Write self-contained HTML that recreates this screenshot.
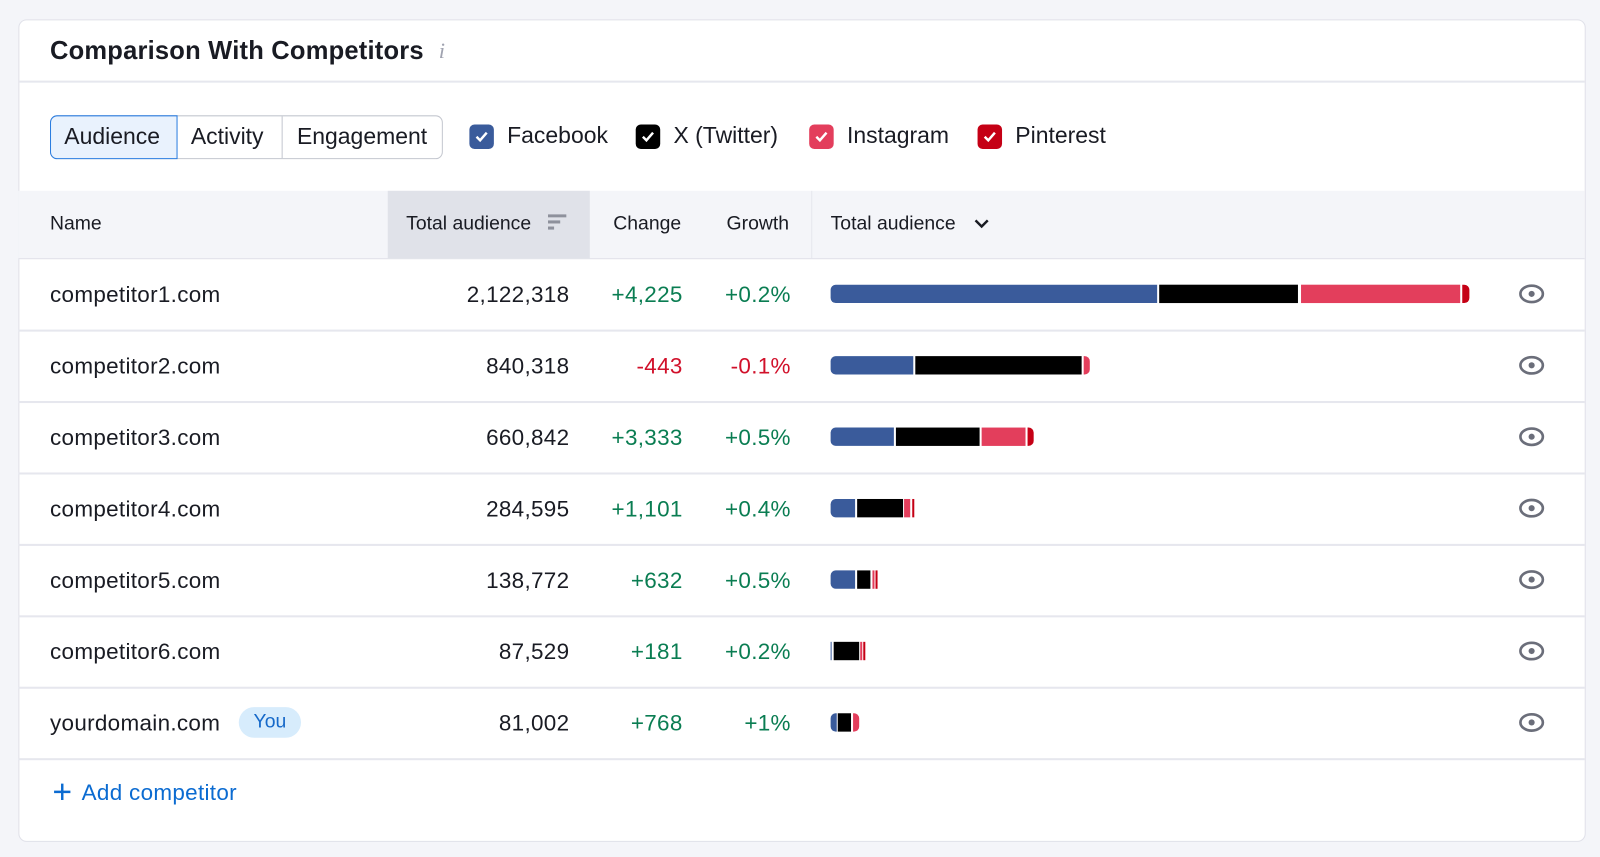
<!DOCTYPE html>
<html><head><meta charset="utf-8"><style>
html,body{margin:0;padding:0;background:#f4f5f9;width:1600px;height:857px;overflow:hidden}
#w{position:absolute;left:0;top:0;width:1568px;height:840px;transform:scale(1.02041);transform-origin:0 0;font-family:"Liberation Sans",sans-serif;color:#191b23}
.a{position:absolute;white-space:nowrap}
.card{left:18px;top:19px;width:1534px;height:804px;background:#fff;border:1px solid #e0e1e9;border-radius:8px;overflow:hidden}
.cb{width:24px;height:24px;border-radius:5px;top:122px}
.cb svg{position:absolute;left:4px;top:5px}
.t22{font-size:22.5px;top:120px}
.row{left:18px;width:1535px;height:70px;border-bottom:2px solid #e6e7ee}
.rt{font-size:22px;top:23px;letter-spacing:0.3px}
.r{text-align:right}
.g{color:#0a7d52}.n{color:#d1102a}
.bar{position:absolute;top:26px;height:18px}
.bar i{position:absolute;top:0;height:18px}
.eye{position:absolute;left:1470px;top:25px}
.h{font-size:19px;top:209px}
</style></head><body><div id="w">
<div class="a card"></div>
<div class="a" style="left:49px;top:36px;font-size:25px;font-weight:bold;letter-spacing:0.2px">Comparison With Competitors</div>
<div class="a" style="left:430px;top:37px;font-size:22px;color:#a0a3b0;font-style:italic;font-family:'Liberation Serif',serif">i</div>
<div class="a" style="left:19px;top:79px;width:1534px;height:2px;background:#e6e7ee"></div>
<div class="a" style="left:49px;top:113px;width:383px;height:41px;border:1px solid #c4c7cf;border-radius:7px"></div>
<div class="a" style="left:49px;top:113px;width:123px;height:41px;border:1px solid #2b7de0;border-radius:7px 0 0 7px;background:#e9f2fd"></div>
<div class="a" style="left:276px;top:114px;width:1px;height:41px;background:#c4c7cf"></div>
<div class="a t22" style="left:63px;top:121px">Audience</div>
<div class="a t22" style="left:187px;top:121px">Activity</div>
<div class="a t22" style="left:291px;top:121px">Engagement</div>
<div class="a cb" style="left:460px;background:#3a5b9b"><svg width="16" height="14"><path d="M3 7l3.5 3.5L13 3" stroke="#fff" stroke-width="2.4" fill="none"/></svg></div>
<div class="a t22" style="left:497px">Facebook</div>
<div class="a cb" style="left:623px;background:#000"><svg width="16" height="14"><path d="M3 7l3.5 3.5L13 3" stroke="#fff" stroke-width="2.4" fill="none"/></svg></div>
<div class="a t22" style="left:660px">X (Twitter)</div>
<div class="a cb" style="left:793px;background:#e33e5c"><svg width="16" height="14"><path d="M3 7l3.5 3.5L13 3" stroke="#fff" stroke-width="2.4" fill="none"/></svg></div>
<div class="a t22" style="left:830px">Instagram</div>
<div class="a cb" style="left:958px;background:#c50015"><svg width="16" height="14"><path d="M3 7l3.5 3.5L13 3" stroke="#fff" stroke-width="2.4" fill="none"/></svg></div>
<div class="a t22" style="left:995px">Pinterest</div>
<div class="a" style="left:18px;top:187px;width:1535px;height:66px;background:#f4f5f9;border-bottom:1px solid #e0e1e9"></div>
<div class="a" style="left:380px;top:187px;width:198px;height:66px;background:#e0e2e9"></div>
<div class="a h" style="left:49px">Name</div>
<div class="a h" style="left:398px">Total audience</div>
<svg class="a" style="left:537px;top:210px" width="20" height="16"><rect x="0" y="0" width="18" height="3" fill="#8e919c"/><rect x="0" y="6" width="12" height="3" fill="#8e919c"/><rect x="0" y="12" width="6" height="3" fill="#8e919c"/></svg>
<div class="a h" style="left:601px">Change</div>
<div class="a h" style="left:712px">Growth</div>
<div class="a" style="left:795px;top:187px;width:1px;height:66px;background:#e6e7ee"></div>
<div class="a h" style="left:814px">Total audience</div>
<svg class="a" style="left:954px;top:213px" width="16" height="12"><path d="M2 3l6 6 6-6" stroke="#191b23" stroke-width="2.4" fill="none"/></svg>

<div class="a row" style="top:253px"><div class="a rt" style="left:31px">competitor1.com</div><div class="a rt r" style="right:995px">2,122,318</div><div class="a rt r g" style="right:884px">+4,225</div><div class="a rt r g" style="right:778px">+0.2%</div>
<div class="bar" style="left:796px"><i style="left:0;width:320px;background:#3a5b9b;border-radius:5px 0 0 5px"></i><i style="left:322px;width:136px;background:#000"></i><i style="left:461px;width:156px;background:#e33e5c"></i><i style="left:619px;width:7px;background:#c50015;border-radius:0 5px 5px 0"></i></div>
<svg class="eye" width="26" height="20"><ellipse cx="13" cy="10" rx="11" ry="8" stroke="#6b6e7a" stroke-width="2.6" fill="none"/><circle cx="13" cy="10" r="3" fill="#6b6e7a"/></svg></div>

<div class="a row" style="top:323px"><div class="a rt" style="left:31px">competitor2.com</div><div class="a rt r" style="right:995px">840,318</div><div class="a rt r n" style="right:884px">-443</div><div class="a rt r n" style="right:778px">-0.1%</div>
<div class="bar" style="left:796px"><i style="left:0;width:81px;background:#3a5b9b;border-radius:5px 0 0 5px"></i><i style="left:83px;width:163px;background:#000"></i><i style="left:248px;width:6px;background:#e33e5c;border-radius:0 5px 5px 0"></i></div>
<svg class="eye" width="26" height="20"><ellipse cx="13" cy="10" rx="11" ry="8" stroke="#6b6e7a" stroke-width="2.6" fill="none"/><circle cx="13" cy="10" r="3" fill="#6b6e7a"/></svg></div>

<div class="a row" style="top:393px"><div class="a rt" style="left:31px">competitor3.com</div><div class="a rt r" style="right:995px">660,842</div><div class="a rt r g" style="right:884px">+3,333</div><div class="a rt r g" style="right:778px">+0.5%</div>
<div class="bar" style="left:796px"><i style="left:0;width:62px;background:#3a5b9b;border-radius:5px 0 0 5px"></i><i style="left:64px;width:82px;background:#000"></i><i style="left:148px;width:43px;background:#e33e5c"></i><i style="left:193px;width:6px;background:#c50015;border-radius:0 5px 5px 0"></i></div>
<svg class="eye" width="26" height="20"><ellipse cx="13" cy="10" rx="11" ry="8" stroke="#6b6e7a" stroke-width="2.6" fill="none"/><circle cx="13" cy="10" r="3" fill="#6b6e7a"/></svg></div>

<div class="a row" style="top:463px"><div class="a rt" style="left:31px">competitor4.com</div><div class="a rt r" style="right:995px">284,595</div><div class="a rt r g" style="right:884px">+1,101</div><div class="a rt r g" style="right:778px">+0.4%</div>
<div class="bar" style="left:796px"><i style="left:0;width:24px;background:#3a5b9b;border-radius:5px 0 0 5px"></i><i style="left:26px;width:45px;background:#000"></i><i style="left:72px;width:6px;background:#e33e5c"></i><i style="left:80px;width:2px;background:#c50015"></i></div>
<svg class="eye" width="26" height="20"><ellipse cx="13" cy="10" rx="11" ry="8" stroke="#6b6e7a" stroke-width="2.6" fill="none"/><circle cx="13" cy="10" r="3" fill="#6b6e7a"/></svg></div>

<div class="a row" style="top:533px"><div class="a rt" style="left:31px">competitor5.com</div><div class="a rt r" style="right:995px">138,772</div><div class="a rt r g" style="right:884px">+632</div><div class="a rt r g" style="right:778px">+0.5%</div>
<div class="bar" style="left:796px"><i style="left:0;width:24px;background:#3a5b9b;border-radius:5px 0 0 5px"></i><i style="left:26px;width:13px;background:#000"></i><i style="left:41px;width:2px;background:#e33e5c"></i><i style="left:44px;width:2px;background:#c50015"></i></div>
<svg class="eye" width="26" height="20"><ellipse cx="13" cy="10" rx="11" ry="8" stroke="#6b6e7a" stroke-width="2.6" fill="none"/><circle cx="13" cy="10" r="3" fill="#6b6e7a"/></svg></div>

<div class="a row" style="top:603px"><div class="a rt" style="left:31px">competitor6.com</div><div class="a rt r" style="right:995px">87,529</div><div class="a rt r g" style="right:884px">+181</div><div class="a rt r g" style="right:778px">+0.2%</div>
<div class="bar" style="left:796px"><i style="left:0;width:1px;background:#3a5b9b"></i><i style="left:3px;width:25px;background:#000"></i><i style="left:29px;width:2px;background:#e33e5c"></i><i style="left:32px;width:2px;background:#c50015"></i></div>
<svg class="eye" width="26" height="20"><ellipse cx="13" cy="10" rx="11" ry="8" stroke="#6b6e7a" stroke-width="2.6" fill="none"/><circle cx="13" cy="10" r="3" fill="#6b6e7a"/></svg></div>

<div class="a row" style="top:673px"><div class="a rt" style="left:31px">yourdomain.com</div>
<div class="a" style="left:216px;top:20px;width:61px;height:30px;border-radius:15px;background:#d7ecfc;color:#1669c9;font-size:19px;text-align:center;line-height:30px">You</div>
<div class="a rt r" style="right:995px">81,002</div><div class="a rt r g" style="right:884px">+768</div><div class="a rt r g" style="right:778px">+1%</div>
<div class="bar" style="left:796px"><i style="left:0;width:6px;background:#3a5b9b;border-radius:5px 0 0 5px"></i><i style="left:7px;width:13px;background:#000"></i><i style="left:22px;width:6px;background:#e33e5c;border-radius:0 5px 5px 0"></i></div>
<svg class="eye" width="26" height="20"><ellipse cx="13" cy="10" rx="11" ry="8" stroke="#6b6e7a" stroke-width="2.6" fill="none"/><circle cx="13" cy="10" r="3" fill="#6b6e7a"/></svg></div>

<svg class="a" style="left:52px;top:767px" width="18" height="18"><path d="M9 1v16M1 9h16" stroke="#0b6bd1" stroke-width="2.4"/></svg>
<div class="a" style="left:80px;top:764px;font-size:22px;color:#0b6bd1;letter-spacing:0.3px">Add competitor</div>
</div></body></html>
